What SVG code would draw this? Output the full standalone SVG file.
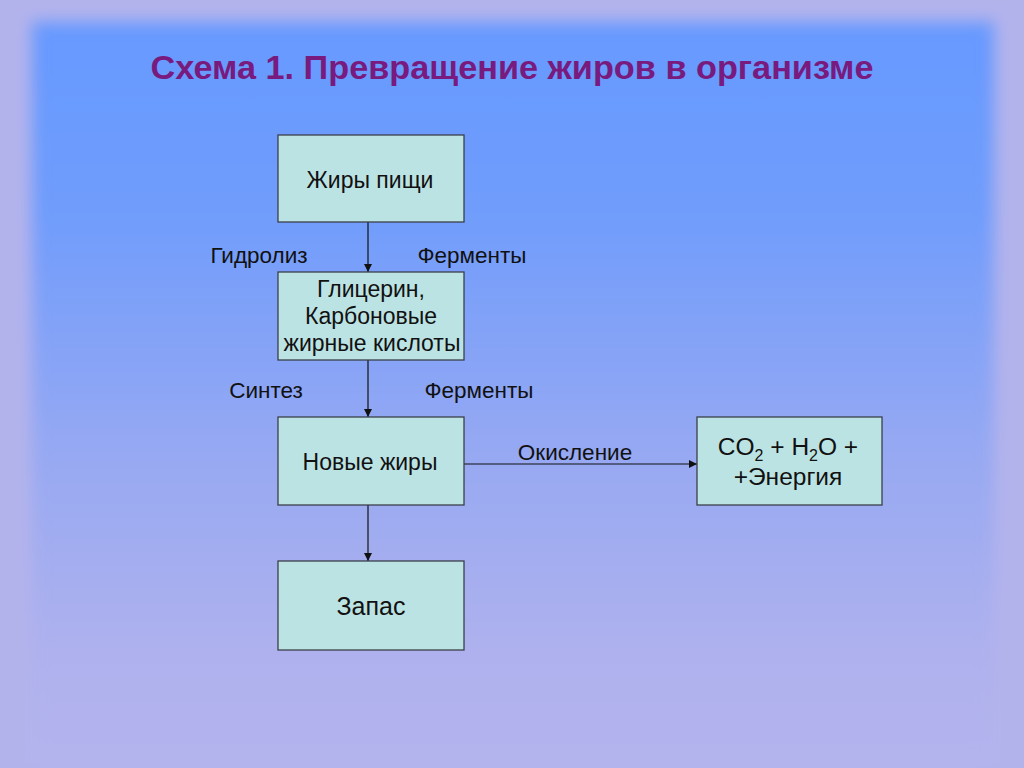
<svg xmlns="http://www.w3.org/2000/svg" width="1024" height="768" viewBox="0 0 1024 768">
<defs>
<linearGradient id="bg" x1="0" y1="0" x2="0" y2="1">
<stop offset="0" stop-color="#6699ff"/>
<stop offset="0.25" stop-color="#6f9cfc"/>
<stop offset="0.6" stop-color="#98a9f2"/>
<stop offset="0.85" stop-color="#aeb1ee"/>
<stop offset="1" stop-color="#b3b3ee"/>
</linearGradient>
<filter id="soft" x="-5%" y="-5%" width="110%" height="110%">
<feGaussianBlur stdDeviation="8"/>
</filter>
<marker id="ah" viewBox="0 0 10 10" refX="10" refY="5" markerWidth="8" markerHeight="8" markerUnits="userSpaceOnUse" orient="auto">
<path d="M0,0 L10,5 L0,10 z" fill="#111"/>
</marker>
<style>
.box{fill:#bce3e3;stroke:#3a3f4a;stroke-width:1.3}
.t{font-family:"Liberation Sans",Arial,sans-serif;fill:#111;text-anchor:middle}
.lbl{font-family:"Liberation Sans",Arial,sans-serif;fill:#111;font-size:22.5px;text-anchor:middle}
.c{stroke:#111;stroke-width:1.2;fill:none;marker-end:url(#ah)}
</style>
</defs>
<rect width="1024" height="768" fill="#b3b3ec"/>
<rect x="32" y="22" width="962" height="740" fill="url(#bg)" filter="url(#soft)"/>
<text x="512" y="79" font-family="'Liberation Sans',Arial,sans-serif" font-size="33" font-weight="bold" fill="#781a7e" text-anchor="middle" textLength="723" lengthAdjust="spacingAndGlyphs">Схема 1. Превращение жиров в организме</text>
<g id="connectors">
<line class="c" x1="368" y1="222" x2="368" y2="272"/>
<line class="c" x1="368" y1="360" x2="368" y2="417"/>
<line class="c" x1="368" y1="505" x2="368" y2="561"/>
<line class="c" x1="464" y1="464" x2="697" y2="464"/>
<text class="lbl" x="259" y="263">Гидролиз</text>
<text class="lbl" x="472" y="263">Ферменты</text>
<text class="lbl" x="266" y="398">Синтез</text>
<text class="lbl" x="479" y="398">Ферменты</text>
<text class="lbl" x="575" y="460">Окисление</text>
</g>
<g id="n1">
<rect class="box" x="278" y="135" width="186" height="87"/>
<text class="t" x="370" y="188" font-size="23">Жиры пищи</text>
</g>
<g id="n2">
<rect class="box" x="278" y="272" width="186" height="88"/>
<text class="t" x="371" y="297" font-size="23">Глицерин,</text>
<text class="t" x="371" y="324" font-size="23">Карбоновые</text>
<text class="t" x="372" y="351" font-size="23">жирные кислоты</text>
</g>
<g id="n3">
<rect class="box" x="278" y="417" width="186" height="88"/>
<text class="t" x="370" y="470" font-size="23">Новые жиры</text>
</g>
<g id="n4">
<rect class="box" x="278" y="561" width="186" height="89"/>
<text class="t" x="371" y="615" font-size="25">Запас</text>
</g>
<g id="n5">
<rect class="box" x="697" y="417" width="185" height="88"/>
<text class="t" x="788" y="455" font-size="24.5">CO<tspan font-size="16" dy="6">2</tspan><tspan dy="-6"> + H</tspan><tspan font-size="16" dy="6">2</tspan><tspan dy="-6">O +</tspan></text>
<text class="t" x="788" y="485" font-size="24.5">+Энергия</text>
</g>
</svg>
